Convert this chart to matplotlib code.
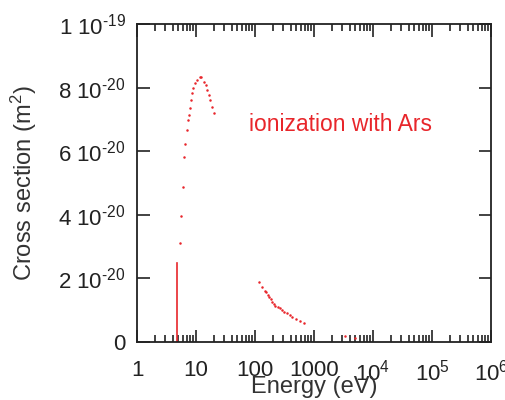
import matplotlib
matplotlib.use("Agg")
import matplotlib.pyplot as plt
from matplotlib.ticker import FixedLocator, LogLocator, NullFormatter

plt.rcParams['font.family'] = ['Liberation Sans', 'DejaVu Sans']
plt.rcParams['mathtext.fontset'] = 'custom'
plt.rcParams['mathtext.rm'] = 'Liberation Sans'
plt.rcParams['mathtext.it'] = 'Liberation Sans'

# threshold rise (dense dots forming a near-vertical line)
thresh_energy = [4.77, 4.77, 4.85, 4.85]
thresh_sigma = [0.0, 1.85e-20, 1.85e-20, 2.48e-20]

# low-energy branch (eV, m^2)
low_energy = [5.39, 5.60, 5.90, 6.30, 6.63, 6.90, 7.18, 7.46, 7.76, 8.07, 8.51,
              8.96, 9.58, 10.4, 11.5, 12.1, 13.4, 14.5, 15.5, 16.6, 17.4, 18.6, 19.9]
low_sigma = [3.10e-20, 3.97e-20, 4.88e-20, 5.81e-20, 6.23e-20, 6.67e-20, 6.98e-20,
             7.14e-20, 7.35e-20, 7.61e-20, 7.82e-20, 7.98e-20, 8.13e-20, 8.24e-20,
             8.34e-20, 8.32e-20, 8.19e-20, 8.08e-20, 7.92e-20, 7.77e-20, 7.61e-20,
             7.40e-20, 7.19e-20]

# high-energy branch
high_energy = [119, 132, 146, 151, 164, 174, 183, 195, 208, 222, 243, 263, 285,
               312, 351, 385, 427, 500, 569, 674, 3300, 4960]
high_sigma = [1.88e-20, 1.74e-20, 1.60e-20, 1.56e-20, 1.48e-20, 1.41e-20, 1.34e-20,
              1.27e-20, 1.18e-20, 1.14e-20, 1.11e-20, 1.06e-20, 1.01e-20, 0.95e-20,
              0.90e-20, 0.85e-20, 0.80e-20, 0.71e-20, 0.66e-20, 0.59e-20,
              0.19e-20, 0.135e-20]

x_ticks = [1, 10, 100, 1000, 1e4, 1e5, 1e6]
x_labels = ['1', '10', '100', '1000', r'10$^{4}$', r'10$^{5}$', r'10$^{6}$']
y_ticks = [0, 2e-20, 4e-20, 6e-20, 8e-20, 1e-19]
y_labels = ['0', r'2 10$^{\text{-}20}$', r'4 10$^{\text{-}20}$', r'6 10$^{\text{-}20}$',
            r'8 10$^{\text{-}20}$', r'1 10$^{\text{-}19}$']

red = '#e8262b'

fig = plt.figure(figsize=(5.06, 4.0), dpi=100)
ax = fig.add_axes([0.2708, 0.145, 0.6996, 0.795])

ax.plot(thresh_energy, thresh_sigma, color=red, lw=1.2)
ax.plot(low_energy, low_sigma, 'o', color=red, ms=1.8, mew=0)
ax.plot(high_energy, high_sigma, 'o', color=red, ms=1.8, mew=0)

ax.set_xscale('log')
ax.set_xlim(1, 1e6)
ax.set_ylim(0, 1e-19)
ax.xaxis.set_major_locator(FixedLocator(x_ticks))
ax.set_xticklabels(x_labels)
ax.xaxis.set_minor_locator(LogLocator(base=10, subs=range(2, 10), numticks=100))
ax.xaxis.set_minor_formatter(NullFormatter())
ax.set_yticks(y_ticks)
ax.set_yticklabels(y_labels)

ax.tick_params(which='both', direction='in', top=True, right=True, labelsize=16,
               width=1.2, colors='#222222')
ax.tick_params(which='major', length=9)
ax.tick_params(which='minor', length=5)
ax.tick_params(axis='x', pad=13)
ax.tick_params(axis='y', pad=8)
for s in ax.spines.values():
    s.set_linewidth(1.3)
    s.set_color('#222222')

ax.set_xlabel('Energy (eV)', fontsize=17, color='#333333', labelpad=-7)
ax.set_ylabel(r'Cross section (m$^{2}$)', fontsize=17, color='#333333', labelpad=14)

ax.text(0.315, 0.685, 'ionization with Ars', transform=ax.transAxes,
        color=red, fontsize=16.5, ha='left', va='center')

fig.savefig('out.png', dpi=100)
